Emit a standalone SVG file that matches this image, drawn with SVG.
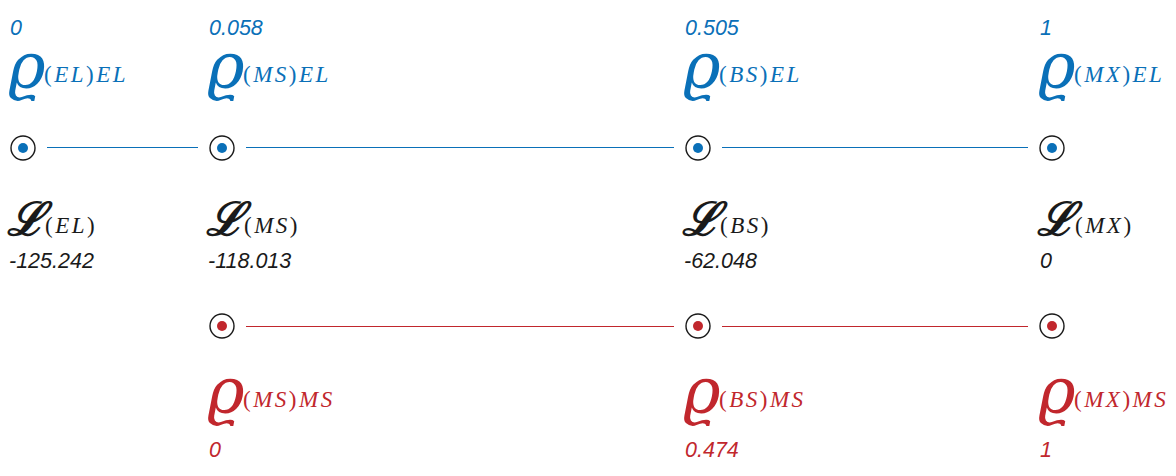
<svg xmlns="http://www.w3.org/2000/svg" width="1176" height="476" viewBox="0 0 1176 476">
<style>
.bg{fill:#ffffff}
.num{font-family:"Liberation Sans",Arial,sans-serif;font-style:italic;font-size:21.5px}
.rho{font-family:"DejaVu Serif",serif;font-style:italic;font-size:64px}
.sub{font-family:"Liberation Serif","Times New Roman",serif;font-style:italic;font-size:23px;letter-spacing:2.5px}
.up{font-style:normal}
.cal{font-family:"DejaVu Serif",serif;font-style:italic;font-weight:bold;font-size:46px}
.blue{fill:#0a70b8}
.red{fill:#c1272d}
.blk{fill:#1a1a1a}
.ring{fill:#ffffff;stroke:#1a1a1a;stroke-width:1.4}
.dotb{fill:#0a70b8}
.dotr{fill:#c1272d}
.lb{stroke:#0a70b8;stroke-width:1}
.lr{stroke:#c1272d;stroke-width:1}
</style>
<rect class="bg" x="0" y="0" width="1176" height="476"/>
<g id="connectors">
<line class="lb" x1="47" y1="147.5" x2="198" y2="147.5"/>
<line class="lb" x1="246" y1="147.5" x2="674" y2="147.5"/>
<line class="lb" x1="722" y1="147.5" x2="1028" y2="147.5"/>
<line class="lr" x1="246" y1="326.5" x2="674" y2="326.5"/>
<line class="lr" x1="722" y1="326.5" x2="1028" y2="326.5"/>
</g>
<g id="node-EL">
<text class="num blue" x="10" y="35">0</text>
<text class="rho blue" x="8" y="88">ϱ</text>
<text class="sub blue" x="44" y="82"><tspan class="up">(</tspan>EL<tspan class="up">)</tspan>EL</text>
<circle class="ring" cx="23" cy="148" r="12"/>
<circle class="dotb" cx="23" cy="148" r="5"/>
<text class="cal blk" x="7" y="235">ℒ</text>
<text class="sub blk" x="45" y="233"><tspan class="up">(</tspan>EL<tspan class="up">)</tspan></text>
<text class="num blk" x="9" y="268">-125.242</text>
</g>
<g id="node-MS">
<text class="num blue" x="209" y="35">0.058</text>
<text class="rho blue" x="207" y="88">ϱ</text>
<text class="sub blue" x="243" y="82"><tspan class="up">(</tspan>MS<tspan class="up">)</tspan>EL</text>
<circle class="ring" cx="222" cy="148" r="12"/>
<circle class="dotb" cx="222" cy="148" r="5"/>
<text class="cal blk" x="206" y="235">ℒ</text>
<text class="sub blk" x="244" y="233"><tspan class="up">(</tspan>MS<tspan class="up">)</tspan></text>
<text class="num blk" x="208" y="268">-118.013</text>
<circle class="ring" cx="222" cy="326" r="12"/>
<circle class="dotr" cx="222" cy="326" r="5"/>
<text class="rho red" x="207" y="413">ϱ</text>
<text class="sub red" x="243" y="407"><tspan class="up">(</tspan>MS<tspan class="up">)</tspan>MS</text>
<text class="num red" x="209" y="457">0</text>
</g>
<g id="node-BS">
<text class="num blue" x="685" y="35">0.505</text>
<text class="rho blue" x="683" y="88">ϱ</text>
<text class="sub blue" x="719" y="82"><tspan class="up">(</tspan>BS<tspan class="up">)</tspan>EL</text>
<circle class="ring" cx="698" cy="148" r="12"/>
<circle class="dotb" cx="698" cy="148" r="5"/>
<text class="cal blk" x="682" y="235">ℒ</text>
<text class="sub blk" x="720" y="233"><tspan class="up">(</tspan>BS<tspan class="up">)</tspan></text>
<text class="num blk" x="684" y="268">-62.048</text>
<circle class="ring" cx="698" cy="326" r="12"/>
<circle class="dotr" cx="698" cy="326" r="5"/>
<text class="rho red" x="683" y="413">ϱ</text>
<text class="sub red" x="719" y="407"><tspan class="up">(</tspan>BS<tspan class="up">)</tspan>MS</text>
<text class="num red" x="685" y="457">0.474</text>
</g>
<g id="node-MX">
<text class="num blue" x="1040" y="35">1</text>
<text class="rho blue" x="1038" y="88">ϱ</text>
<text class="sub blue" x="1074" y="82"><tspan class="up">(</tspan>MX<tspan class="up">)</tspan>EL</text>
<circle class="ring" cx="1052" cy="148" r="12"/>
<circle class="dotb" cx="1052" cy="148" r="5"/>
<text class="cal blk" x="1037" y="235">ℒ</text>
<text class="sub blk" x="1075" y="233"><tspan class="up">(</tspan>MX<tspan class="up">)</tspan></text>
<text class="num blk" x="1040" y="268">0</text>
<circle class="ring" cx="1052" cy="326" r="12"/>
<circle class="dotr" cx="1052" cy="326" r="5"/>
<text class="rho red" x="1038" y="413">ϱ</text>
<text class="sub red" x="1074" y="407"><tspan class="up">(</tspan>MX<tspan class="up">)</tspan>MS</text>
<text class="num red" x="1040" y="457">1</text>
</g>
</svg>
